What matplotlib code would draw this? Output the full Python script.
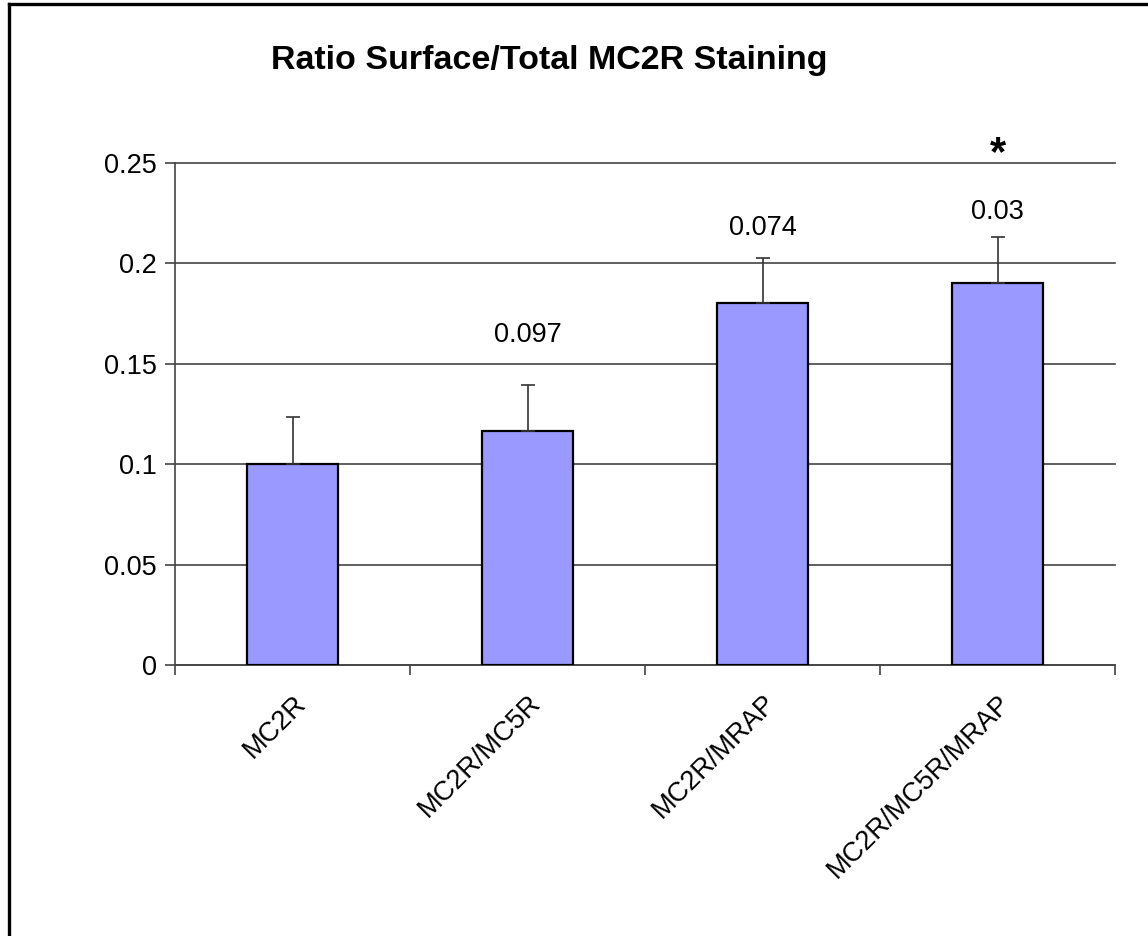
import matplotlib
matplotlib.use("Agg")
import matplotlib.pyplot as plt
from matplotlib.lines import Line2D
from matplotlib.transforms import ScaledTranslation

categories = ["MC2R", "MC2R/MC5R", "MC2R/MRAP", "MC2R/MC5R/MRAP"]
values = [0.100, 0.1165, 0.1805, 0.190]
errors = [0.0235, 0.023, 0.022, 0.023]
pvalue_labels = ["", "0.097", "0.074", "0.03"]
pvalue_y = [None, 0.1643, 0.2176, 0.2256]
star_label = "*"
yticks = [0, 0.05, 0.1, 0.15, 0.2, 0.25]
ytick_labels = ["0", "0.05", "0.1", "0.15", "0.2", "0.25"]
title = "Ratio Surface/Total MC2R Staining"

plt.rcParams['font.family'] = ['Liberation Sans', 'DejaVu Sans']

fig = plt.figure(figsize=(11.48, 9.36), dpi=100)
ax = fig.add_axes([175/1148, 1-665/936, (1115-175)/1148, (665-163)/936])

x = list(range(len(categories)))
ax.bar(x, values, width=0.39, color="#9999FF", edgecolor="black", linewidth=1.6, zorder=3)
ax.errorbar(x, values, yerr=[[0]*len(errors), errors], fmt="none", ecolor="#333333",
            elinewidth=1.2, capsize=5, capthick=1.2, zorder=4)

for xi, lab, yy in zip(x, pvalue_labels, pvalue_y):
    if lab:
        ax.text(xi, yy, lab, ha="center", va="center", fontsize=19.5)
ax.text(x[-1], 0.2545, star_label, ha="center", va="center", fontsize=30,
        fontweight="bold", clip_on=False)

ax.set_xlim(-0.5, len(categories) - 0.5)
ax.set_ylim(0, 0.25)
ax.set_yticks(yticks)
ax.set_yticklabels(ytick_labels, fontsize=19.5)
ax.set_xticks(x)
ax.set_xticklabels(categories, rotation=45, ha="right", va="top", rotation_mode="anchor",
                   fontsize=19.5)
for lab in ax.get_xticklabels():
    lab.set_transform(lab.get_transform() + ScaledTranslation(7/100, 0, fig.dpi_scale_trans))
ax.set_xticks([i - 0.5 for i in range(len(categories) + 1)], minor=True)
ax.tick_params(axis="x", which="major", length=0, pad=18)
ax.tick_params(axis="x", which="minor", length=7, width=1.2, color="#444444")
ax.tick_params(axis="y", length=7, width=1.2, color="#444444", pad=6)

ax.yaxis.grid(True, color="#444444", linewidth=1.2, zorder=0)
ax.set_axisbelow(True)
for gl in ax.get_ygridlines():
    gl.set_clip_on(False)

for s in ["top", "right"]:
    ax.spines[s].set_visible(False)
for s in ["left", "bottom"]:
    ax.spines[s].set_color("#444444")
    ax.spines[s].set_linewidth(1.2)

fig.text(549/1148, 1-60/936, title, ha="center", va="center", fontsize=24.5, fontweight="bold")

# figure frame (left and top)
fig.add_artist(Line2D([8.5/1148, 8.5/1148], [0, 1-3.5/936], color="black", linewidth=2.4,
                      transform=fig.transFigure, solid_capstyle="projecting"))
fig.add_artist(Line2D([8.5/1148, 1], [1-3.5/936, 1-3.5/936], color="black", linewidth=2.4,
                      transform=fig.transFigure, solid_capstyle="projecting"))

fig.savefig("out.png", dpi=100, facecolor="white")
